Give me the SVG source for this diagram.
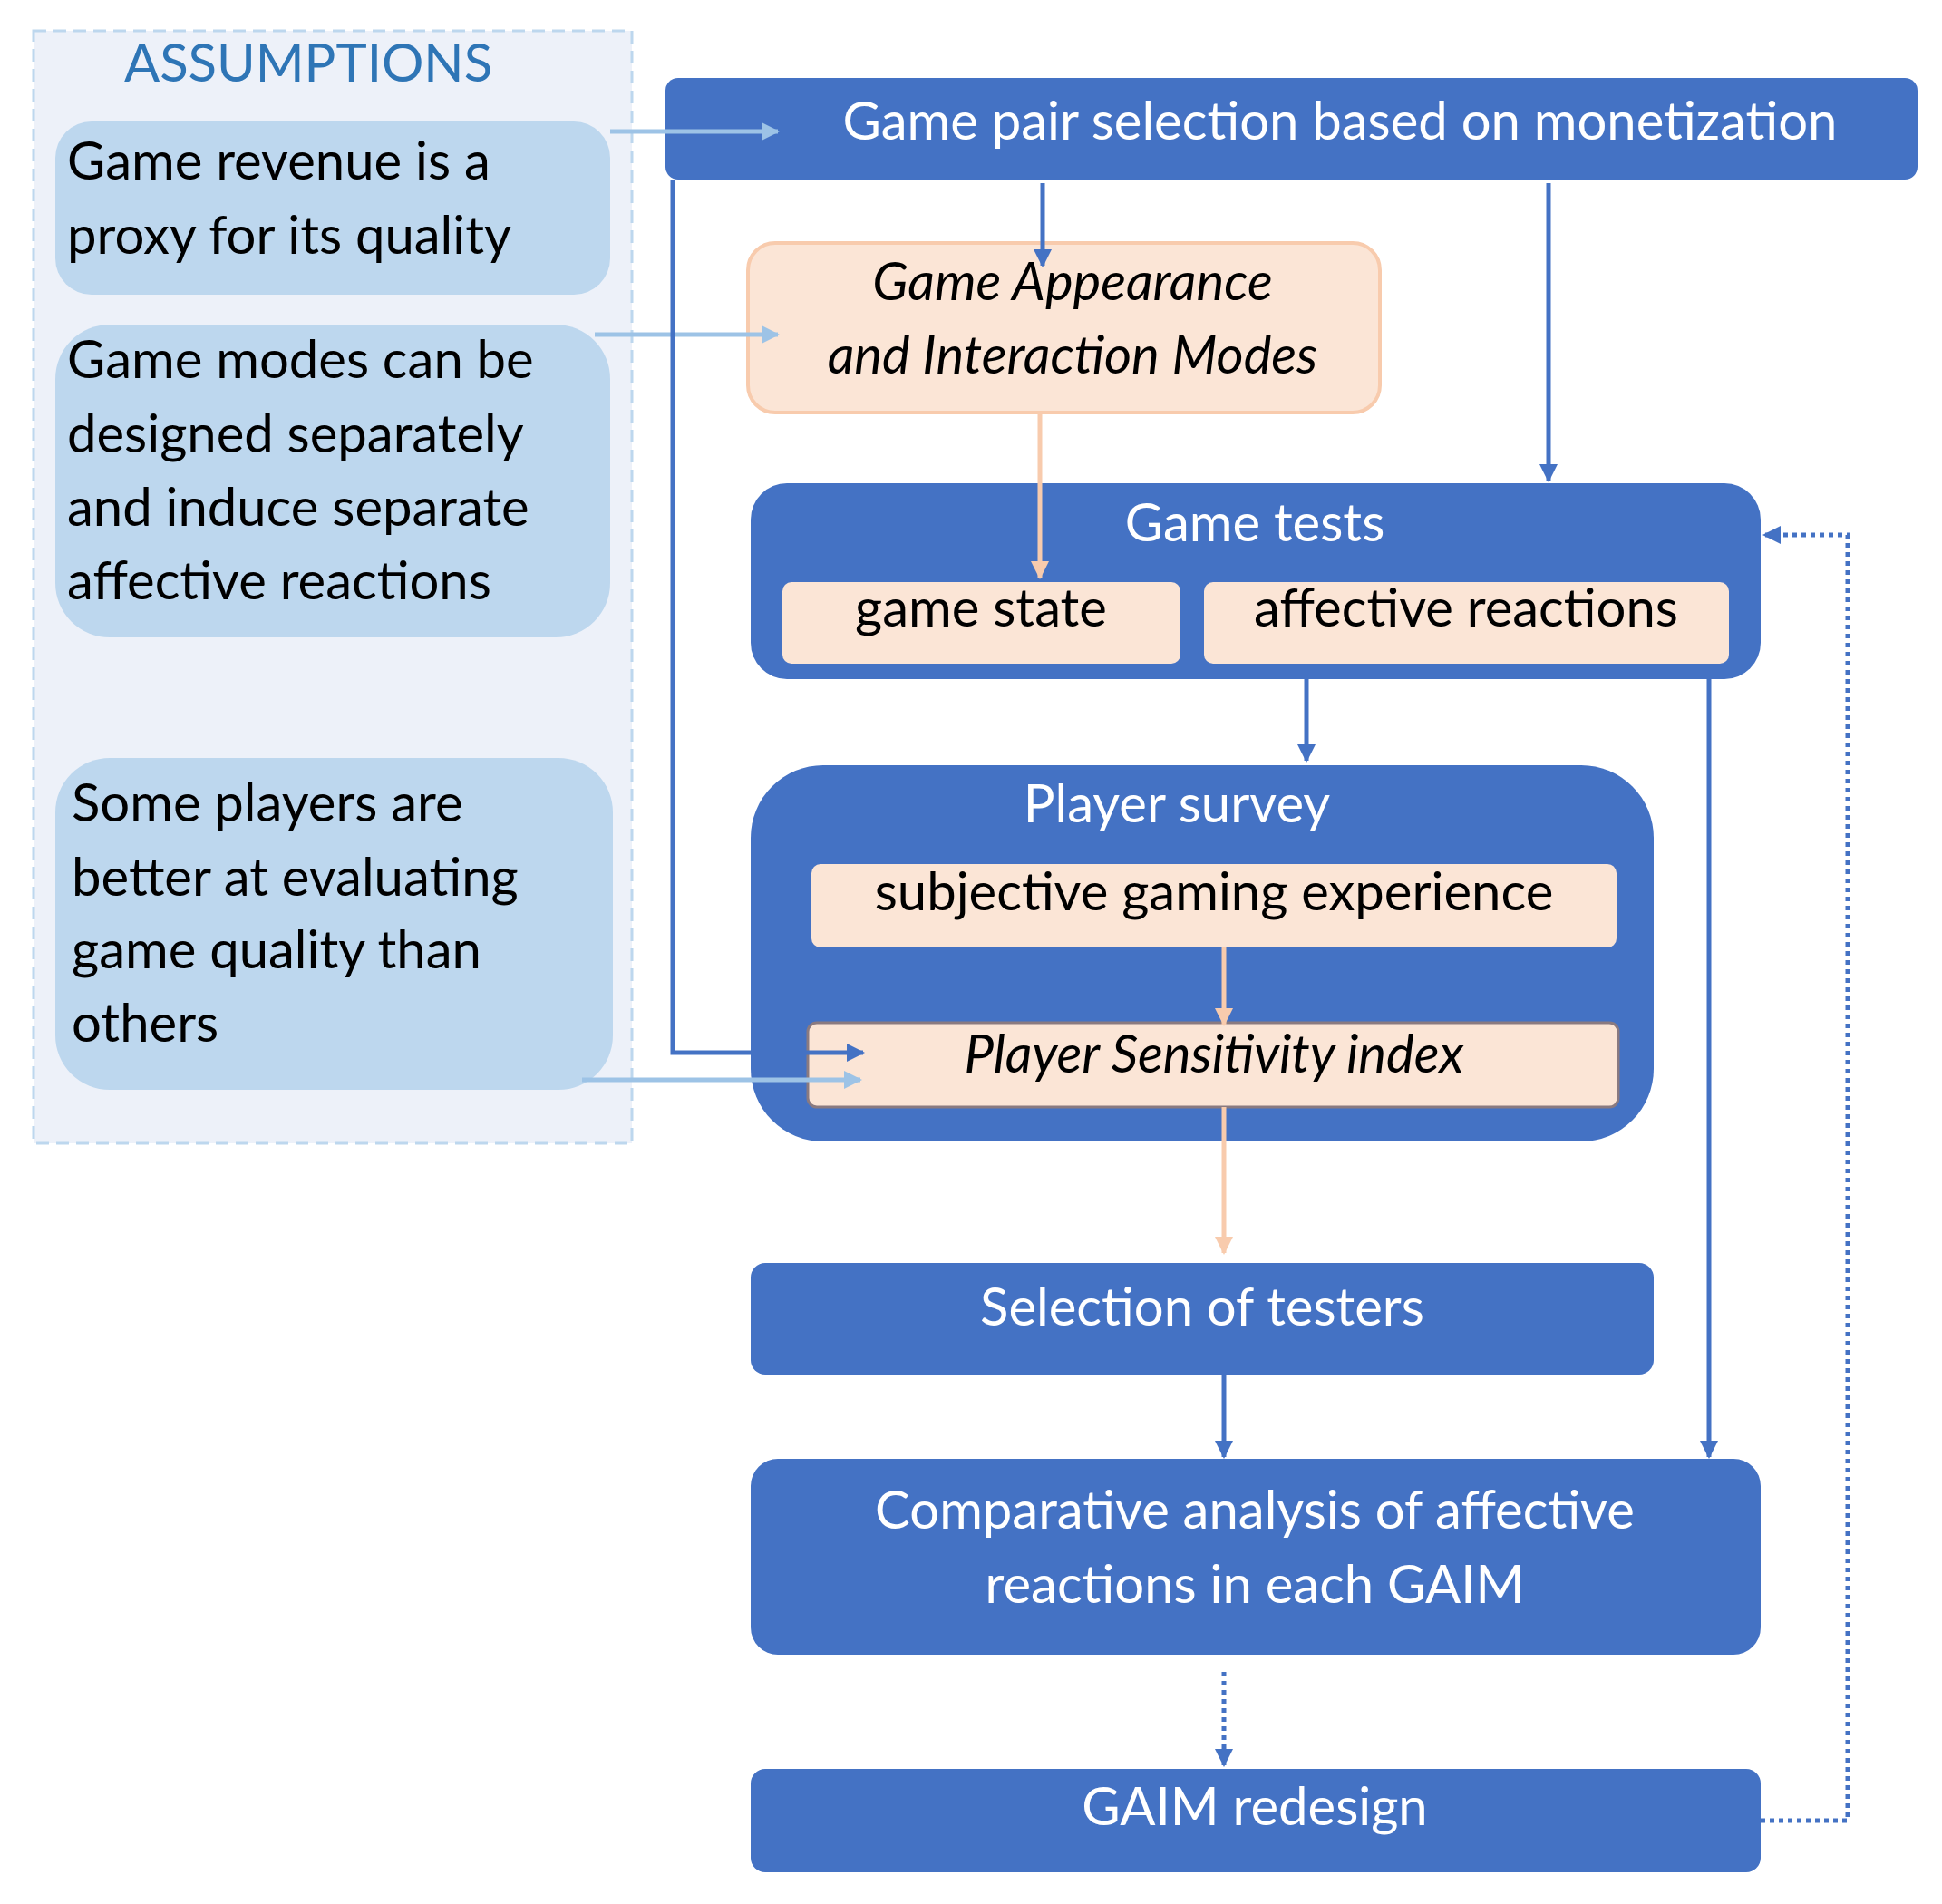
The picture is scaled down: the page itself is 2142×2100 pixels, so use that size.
<svg xmlns="http://www.w3.org/2000/svg" width="2142" height="2100" viewBox="0 0 2142 2100">
<style>
text{font-family:Lato,"Open Sans",sans-serif;font-size:58px}
.w{fill:#fff;text-anchor:middle}
.k{fill:#000}
.kc{fill:#000;text-anchor:middle}
.i{font-style:italic}
.dk{fill:#4472C4}
.lb{fill:#BDD7EE}
.pe{fill:#FBE5D6}
.ln{fill:none;stroke-width:5}
</style>
<defs>
<marker id="ad" viewBox="0 0 10 10" refX="9" refY="5" markerWidth="4" markerHeight="4" orient="auto"><path d="M0,0L10,5L0,10z" fill="#4472C4"/></marker>
<marker id="al" viewBox="0 0 10 10" refX="9" refY="5" markerWidth="4" markerHeight="4" orient="auto"><path d="M0,0L10,5L0,10z" fill="#9DC3E6"/></marker>
<marker id="ap" viewBox="0 0 10 10" refX="9" refY="5" markerWidth="4" markerHeight="4" orient="auto"><path d="M0,0L10,5L0,10z" fill="#F8CBAD"/></marker>
</defs>
<rect x="0" y="0" width="2142" height="2100" fill="#fff"/>
<g id="assumptions">
<rect x="37" y="34" width="660" height="1227" fill="#EDF1F9" stroke="#BDD7EE" stroke-width="3" stroke-dasharray="14,8"/>
<text x="340" y="90" fill="#2E75B6" text-anchor="middle">ASSUMPTIONS</text>
</g>
<g id="a1"><rect x="61" y="134" width="612" height="191" rx="40" class="lb"/>
<text x="74" y="198" class="k">Game revenue is a</text><text x="74" y="280" class="k">proxy for its quality</text></g>
<g id="a2"><rect x="61" y="358" width="612" height="345" rx="60" class="lb"/>
<text x="74" y="417" class="k">Game modes can be</text><text x="74" y="499" class="k">designed separately</text><text x="74" y="580" class="k">and induce separate</text><text x="74" y="661" class="k">affective reactions</text></g>
<g id="a3"><rect x="61" y="836" width="615" height="366" rx="60" class="lb"/>
<text x="79" y="906" class="k">Some players are</text><text x="79" y="988" class="k">better at evaluating</text><text x="79" y="1068" class="k">game quality than</text><text x="79" y="1149" class="k">others</text></g>
<g id="top"><rect x="734" y="86" width="1381" height="112" rx="14" class="dk"/>
<text x="1478" y="154" class="w">Game pair selection based on monetization</text></g>
<g id="gaim"><rect x="825" y="268" width="697" height="187" rx="30" class="pe" stroke="#F8CBAD" stroke-width="4"/>
<text x="1183" y="331" class="kc i">Game Appearance</text><text x="1183" y="412" class="kc i">and Interaction Modes</text></g>
<g id="tests"><rect x="828" y="533" width="1114" height="216" rx="40" class="dk"/>
<text x="1384" y="597" class="w">Game tests</text>
<rect x="863" y="642" width="439" height="90" rx="10" class="pe"/><text x="1082" y="691" class="kc">game state</text>
<rect x="1328" y="642" width="579" height="90" rx="10" class="pe"/><text x="1617" y="691" class="kc">affective reactions</text></g>
<g id="survey"><rect x="828" y="844" width="996" height="415" rx="80" class="dk"/>
<text x="1298" y="907" class="w">Player survey</text>
<rect x="895" y="953" width="888" height="92" rx="10" class="pe"/><text x="1339" y="1004" class="kc">subjective gaming experience</text>
<rect x="891" y="1128" width="894" height="93" rx="10" class="pe" stroke="#8a7a80" stroke-width="3"/><text x="1339" y="1183" class="kc i">Player Sensitivity index</text></g>
<g id="selection"><rect x="828" y="1393" width="996" height="123" rx="16" class="dk"/>
<text x="1326" y="1462" class="w">Selection of testers</text></g>
<g id="comparative"><rect x="828" y="1609" width="1114" height="216" rx="30" class="dk"/>
<text x="1384" y="1686" class="w">Comparative analysis of affective</text><text x="1384" y="1768" class="w">reactions in each GAIM</text></g>
<g id="redesign"><rect x="828" y="1951" width="1114" height="114" rx="16" class="dk"/>
<text x="1384" y="2013" class="w">GAIM redesign</text></g>
<g id="connectors">
<path class="ln" stroke="#9DC3E6" d="M673,145H858" marker-end="url(#al)"/>
<path class="ln" stroke="#9DC3E6" d="M656,369H858" marker-end="url(#al)"/>
<path class="ln" stroke="#9DC3E6" d="M642,1191H949" marker-end="url(#al)"/>
<path class="ln" stroke="#4472C4" d="M742,198V1161H952" marker-end="url(#ad)"/>
<path class="ln" stroke="#4472C4" d="M1150,202V293" marker-end="url(#ad)"/>
<path class="ln" stroke="#4472C4" d="M1708,202V530" marker-end="url(#ad)"/>
<path class="ln" stroke="#F8CBAD" d="M1147,455V637" marker-end="url(#ap)"/>
<path class="ln" stroke="#4472C4" d="M1441,749V839" marker-end="url(#ad)"/>
<path class="ln" stroke="#F8CBAD" d="M1350,1045V1130" marker-end="url(#ap)"/>
<path class="ln" stroke="#F8CBAD" d="M1350,1221V1382" marker-end="url(#ap)"/>
<path class="ln" stroke="#4472C4" d="M1350,1516V1607" marker-end="url(#ad)"/>
<path class="ln" stroke="#4472C4" d="M1885,749V1607" marker-end="url(#ad)"/>
<path class="ln" stroke="#4472C4" stroke-dasharray="5,5" d="M1350,1844V1947" marker-end="url(#ad)"/>
<path class="ln" stroke="#4472C4" stroke-dasharray="5,5" d="M1942,2008H2038V590H1946" marker-end="url(#ad)"/>
</g>
</svg>
